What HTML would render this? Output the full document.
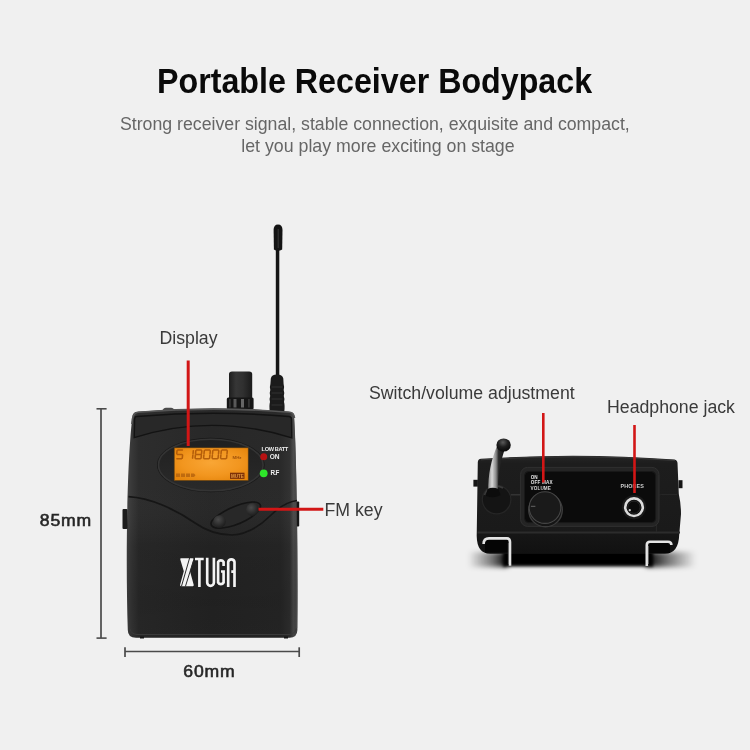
<!DOCTYPE html>
<html><head><meta charset="utf-8">
<style>
html,body{margin:0;padding:0;width:750px;height:750px;overflow:hidden;background:#f0f0f0;}
svg{position:absolute;left:0;top:0;display:block;}
text{font-family:"Liberation Sans",sans-serif;}
</style></head>
<body>
<svg width="750" height="750" viewBox="0 0 750 750" style="will-change:transform">
<defs>
<linearGradient id="bodyg" x1="0" y1="0" x2="1" y2="0">
  <stop offset="0" stop-color="#404040"/>
  <stop offset="0.03" stop-color="#343434"/>
  <stop offset="0.07" stop-color="#292929"/>
  <stop offset="0.5" stop-color="#242424"/>
  <stop offset="0.9" stop-color="#262626"/>
  <stop offset="0.955" stop-color="#2e2e2e"/>
  <stop offset="0.975" stop-color="#484848"/>
  <stop offset="1" stop-color="#444"/>
</linearGradient>
<linearGradient id="bodyv" x1="0" y1="0" x2="0" y2="1">
  <stop offset="0" stop-color="#fff" stop-opacity="0.02"/>
  <stop offset="0.35" stop-color="#fff" stop-opacity="0.02"/>
  <stop offset="0.6" stop-color="#000" stop-opacity="0.06"/>
  <stop offset="0.85" stop-color="#000" stop-opacity="0.1"/>
  <stop offset="1" stop-color="#000" stop-opacity="0.06"/>
</linearGradient>
<linearGradient id="knobg" x1="0" y1="0" x2="1" y2="0">
  <stop offset="0" stop-color="#1e1e1e"/>
  <stop offset="0.3" stop-color="#363636"/>
  <stop offset="0.6" stop-color="#303030"/>
  <stop offset="1" stop-color="#1a1a1a"/>
</linearGradient>
<radialGradient id="lcdg" cx="0.5" cy="0.45" r="0.65">
  <stop offset="0" stop-color="#f9a635"/>
  <stop offset="0.6" stop-color="#f2961f"/>
  <stop offset="1" stop-color="#e5850c"/>
</radialGradient>
<radialGradient id="btng" cx="0.4" cy="0.35" r="0.7">
  <stop offset="0" stop-color="#4a4a4a"/>
  <stop offset="1" stop-color="#1a1a1a"/>
</radialGradient>
<linearGradient id="body2g" x1="0" y1="0" x2="0" y2="1">
  <stop offset="0" stop-color="#262626"/>
  <stop offset="0.08" stop-color="#1d1d1d"/>
  <stop offset="0.76" stop-color="#1a1a1a"/>
  <stop offset="0.8" stop-color="#161616"/>
  <stop offset="1" stop-color="#111"/>
</linearGradient>
<linearGradient id="antg" x1="0" y1="0" x2="1" y2="0">
  <stop offset="0" stop-color="#909090"/>
  <stop offset="0.22" stop-color="#d8d8d8"/>
  <stop offset="0.45" stop-color="#8a8a8a"/>
  <stop offset="0.6" stop-color="#2a2a2a"/>
  <stop offset="1" stop-color="#111"/>
</linearGradient>
<radialGradient id="ballg" cx="0.45" cy="0.3" r="0.7">
  <stop offset="0" stop-color="#5a5a5a"/>
  <stop offset="0.5" stop-color="#1e1e1e"/>
  <stop offset="1" stop-color="#080808"/>
</radialGradient>
<radialGradient id="bootg" cx="0.35" cy="0.3" r="0.75">
  <stop offset="0" stop-color="#333"/>
  <stop offset="0.6" stop-color="#151515"/>
  <stop offset="1" stop-color="#0a0a0a"/>
</radialGradient>
<linearGradient id="ovalg" x1="0" y1="0" x2="0" y2="1">
  <stop offset="0" stop-color="#202020"/>
  <stop offset="1" stop-color="#2a2a2a"/>
</linearGradient>
<linearGradient id="shR" x1="0" y1="0" x2="1" y2="0">
  <stop offset="0" stop-color="#000" stop-opacity="1"/>
  <stop offset="0.4" stop-color="#000" stop-opacity="0.55"/>
  <stop offset="1" stop-color="#000" stop-opacity="0"/>
</linearGradient>
<linearGradient id="shL" x1="0" y1="0" x2="1" y2="0">
  <stop offset="0" stop-color="#000" stop-opacity="0"/>
  <stop offset="0.6" stop-color="#000" stop-opacity="0.5"/>
  <stop offset="1" stop-color="#000" stop-opacity="1"/>
</linearGradient>
<filter id="blur4" x="-30%" y="-200%" width="160%" height="500%"><feGaussianBlur stdDeviation="4.5"/></filter>
<filter id="blur2" x="-10%" y="-50%" width="120%" height="200%"><feGaussianBlur stdDeviation="1.8"/></filter>
<filter id="blur3" x="-20%" y="-100%" width="140%" height="300%"><feGaussianBlur stdDeviation="2.5"/></filter>
<filter id="blur6" x="-50%" y="-100%" width="200%" height="300%"><feGaussianBlur stdDeviation="5"/></filter>
</defs>
<rect width="750" height="750" fill="#f0f0f0"/>

<!-- Title -->
<text transform="translate(157 93) scale(0.921 1)" x="0" y="0" font-size="35" font-weight="bold" fill="#0a0a0a">Portable Receiver Bodypack</text>
<text x="120" y="130" font-size="17.72" fill="#666">Strong receiver signal, stable connection, exquisite and compact,</text>
<text x="241.3" y="152" font-size="17.75" fill="#666">let you play more exciting on stage</text>

<!-- labels -->
<text x="159.5" y="344" font-size="17.7" fill="#3a3a3a">Display</text>
<text x="324.5" y="515.5" font-size="17.7" fill="#3a3a3a">FM key</text>
<text x="369" y="399" font-size="17.7" fill="#3a3a3a">Switch/volume adjustment</text>
<text x="607" y="413.3" font-size="17.7" fill="#3a3a3a">Headphone jack</text>
<text transform="translate(39.8 525.8) scale(1.1 1)" font-size="16" fill="#262626" stroke="#262626" stroke-width="0.55" letter-spacing="0.75">85mm</text>
<text transform="translate(183.3 677) scale(1.1 1)" font-size="16" fill="#262626" stroke="#262626" stroke-width="0.55" letter-spacing="0.75">60mm</text>

<!-- dimension lines -->
<g stroke="#4a4a4a" fill="none">
  <line x1="101" y1="408.8" x2="101" y2="638.1" stroke-width="1.7"/>
  <line x1="96.5" y1="408.8" x2="106.6" y2="408.8" stroke-width="1.6"/>
  <line x1="96.5" y1="638.1" x2="106.6" y2="638.1" stroke-width="1.6"/>
  <line x1="125" y1="651.5" x2="299.2" y2="651.5" stroke-width="1.6"/>
  <line x1="125" y1="647.3" x2="125" y2="657" stroke-width="1.7"/>
  <line x1="299.2" y1="647.3" x2="299.2" y2="657" stroke-width="1.7"/>
</g>


<!-- ===== LEFT DEVICE (front) ===== -->
<!-- antenna -->
<g>
  <rect x="275.8" y="248" width="3.5" height="130" fill="#151515"/>
  <path d="M273.6,230 Q273.6,224.4 278,224.4 Q282.5,224.4 282.5,230 L282.2,249.5 Q278,252 273.9,249.5 Z" fill="#141414"/>
  <rect x="277.6" y="229" width="1.2" height="19" fill="#3a3a3a" opacity="0.8"/>
  <path d="M270.8,378.5 Q271.5,374.5 277,374.5 Q282.5,374.5 283.3,378.5 L283.6,384 Q284.6,387 283.7,390 Q284.8,393 283.8,396 Q285,399 284,402 Q285,405 284.3,411.7 H269.8 Q269,405 270,402 Q269,399 270.2,396 Q269.2,393 270.3,390 Q269.4,387 270.4,384 Z" fill="#1b1b1b"/>
  <g stroke="#353535" stroke-width="0.9">
    <line x1="271.5" y1="387" x2="282.5" y2="387"/>
    <line x1="271.5" y1="393" x2="282.5" y2="393"/>
    <line x1="271.5" y1="399" x2="282.5" y2="399"/>
    <line x1="271.5" y1="405" x2="282.5" y2="405"/>
  </g>
</g>
<!-- knob -->
<g>
  <path d="M229,398 V374 Q229,371.4 232,371.4 H249.2 Q252.2,371.4 252.2,374 V398 Z" fill="url(#knobg)"/>
  <rect x="226.8" y="397.5" width="26.8" height="12" rx="1.5" fill="#151515"/>
  <rect x="233.5" y="399" width="3" height="8.5" fill="#6a6a6a" opacity="0.8"/>
  <rect x="241" y="399" width="3" height="8.5" fill="#7a7a7a" opacity="0.8"/>
  <rect x="229" y="399" width="1.8" height="8.5" fill="#333"/>
  <rect x="248" y="399" width="1.8" height="8.5" fill="#333"/>
</g>
<!-- top bump -->
<path d="M162,411.5 Q163,407.8 166,407.8 H171 Q174,407.8 175,411.5 Z" fill="#4a4a4a"/>
<!-- body -->
<path id="lbody" d="M137.5,411.8 Q213.5,405.2 289.5,411.8 Q293.5,412 294,415 C297,460 298,560 297.4,630 Q297.2,637.8 289.5,637.8 H136 Q127.8,637.8 127.8,630 C125.5,560 127,460 132.5,416 Q133,412 137.5,411.8 Z" fill="url(#bodyg)"/>
<path d="M137.5,411.8 Q213.5,405.2 289.5,411.8 Q293.5,412 294,415 C297,460 298,560 297.4,630 Q297.2,637.8 289.5,637.8 H136 Q127.8,637.8 127.8,630 C125.5,560 127,460 132.5,416 Q133,412 137.5,411.8 Z" fill="url(#bodyv)"/>
<path d="M130,629 Q131,634 137,634.5 H289 Q295,634 296,629" fill="none" stroke="#3a3a3a" stroke-width="1"/>
<rect x="140" y="636.5" width="4" height="2" fill="#151515"/>
<rect x="284" y="636.5" width="4" height="2" fill="#151515"/>
<rect x="296.2" y="501.5" width="3" height="25" rx="0.8" fill="#161616"/>
<!-- side tabs -->
<rect x="122.5" y="509" width="5" height="20" rx="1" fill="#1c1c1c"/>

<!-- top band -->
<path d="M131.8,424 Q132.5,412.3 138,412.3 Q213.5,405.9 289.5,412.3 Q294,412.5 294.5,418" fill="none" stroke="#565656" stroke-width="1.6"/>
<path d="M293.2,416 C296,460 297,560 296.4,628" fill="none" stroke="#4a4a4a" stroke-width="1.5" opacity="0.8"/>
<path d="M136.5,416.5 Q213.5,410 289,416.5 Q291.3,416.7 291.5,419 L291.8,437.8 Q212,413 134.2,437.6 L134.6,419.5 Q134.8,416.5 136.5,416.5 Z" fill="#282828" stroke="#131313" stroke-width="1.4"/>

<!-- LCD recess oval -->
<ellipse cx="210.8" cy="465" rx="53.8" ry="27.2" fill="#181818"/>
<ellipse cx="210.8" cy="465" rx="52.3" ry="25.7" fill="url(#ovalg)" stroke="#343434" stroke-width="1.6"/>
<!-- LCD -->
<rect x="174.2" y="447.8" width="74" height="32.8" fill="url(#lcdg)" stroke="#5a3a10" stroke-width="0.6"/>
<g fill="#b8650e" opacity="0.85">
  
  <text x="232.5" y="459" font-size="4.4" font-weight="bold" fill="#8f4406">MHz</text>
  <rect x="176" y="473.5" width="4" height="3.5"/>
  <rect x="181" y="473.5" width="4" height="3.5"/>
  <rect x="186" y="473.5" width="4" height="3.5"/>
  <path d="M191,473.5 h3 l1.5,1.75 l-1.5,1.75 h-3 Z"/>
</g>
<path d="M177.80,450.00L182.40,450.00M182.58,455.10L182.27,458.10M176.90,458.80L181.50,458.80M177.03,450.70L176.72,453.70M177.35,454.40L181.95,454.40M193.33,450.70L193.02,453.70M192.88,455.10L192.57,458.10M196.60,450.00L201.20,450.00M201.83,450.70L201.52,453.70M201.38,455.10L201.07,458.10M195.70,458.80L200.30,458.80M195.38,455.10L195.07,458.10M195.83,450.70L195.52,453.70M196.15,454.40L200.75,454.40M205.10,450.00L209.70,450.00M210.33,450.70L210.02,453.70M209.88,455.10L209.57,458.10M204.20,458.80L208.80,458.80M203.88,455.10L203.57,458.10M204.33,450.70L204.02,453.70M213.60,450.00L218.20,450.00M218.83,450.70L218.52,453.70M218.38,455.10L218.07,458.10M212.70,458.80L217.30,458.80M212.38,455.10L212.07,458.10M212.83,450.70L212.52,453.70M222.10,450.00L226.70,450.00M227.33,450.70L227.02,453.70M226.88,455.10L226.57,458.10M221.20,458.80L225.80,458.80M220.88,455.10L220.57,458.10M221.33,450.70L221.02,453.70" fill="none" stroke="#a95406" stroke-width="1.55" stroke-linecap="round" opacity="0.85"/>
<rect x="230" y="472.7" width="14.5" height="6.2" fill="#7e3208"/>
<text x="231" y="477.8" font-size="4.5" font-weight="bold" fill="#e49a40">MUTE</text>
<!-- LEDs -->
<text x="261.6" y="451" font-size="5.6" font-weight="bold" fill="#eee" letter-spacing="-0.35">LOW BATT</text>
<circle cx="263.7" cy="456.8" r="3.5" fill="#b81212"/>
<text x="269.8" y="459.4" font-size="6.6" font-weight="bold" fill="#eee" letter-spacing="-0.3">ON</text>
<circle cx="263.7" cy="473.3" r="3.9" fill="#2ee62a"/>
<text x="270.5" y="475.2" font-size="6.3" font-weight="bold" fill="#eee" letter-spacing="-0.7">R.F</text>
<!-- wave and buttons -->
<path d="M128.5,496.7 C150,498 175,509 195,523 C205,530 218,535 232,535 C250,534 262,524 270,516 C278,508 286,502 297,500.5" fill="none" stroke="#161616" stroke-width="1.7"/>
<path d="M211.8,521 C220,512 238,503 252,502 C258,501.5 262,504 260,508 C256,516 240,526 222,528 C214,529 209,526 211.8,521 Z" fill="#282828" stroke="#141414" stroke-width="1.6"/>
<circle cx="219.5" cy="521.5" r="6.3" fill="url(#btng)"/>
<circle cx="252.4" cy="509.6" r="6.3" fill="url(#btng)"/>
<!-- logo -->
<path d="M181,558.2 H192.6 Q193.8,558.2 193.5,559.5 L190,571.3 L193.7,584.8 Q194,586.2 192.8,586.2 H181 Q179.8,586.2 180.1,584.8 L183.8,571.3 L180.3,559.5 Q180,558.2 181,558.2 Z" fill="#f4f4f4"/>
<g stroke="#2a2a2a" stroke-width="1" fill="none">
  <path d="M189.6,558 L181.4,586.5"/>
  <path d="M193.8,559.5 L185.4,586.5"/>
</g>
<g fill="none" stroke="#f4f4f4" stroke-width="2.65">
  <path d="M195,559 H203.7 M199.4,559 V587"/>
  <path d="M207.2,557.8 V582.5 A3.2,3.2 0 0 0 213.9,582.5 V557.8"/>
  <path d="M223.6,566 V562 A3.2,3.2 0 0 0 218.1,562 V582.5 A3.2,3.2 0 0 0 223.6,582.5 V571.5 H221"/>
  <path d="M228.2,587 V562 A3.2,3.2 0 0 1 234.5,562 V587 M231.3,571.6 H234.5"/>
</g>

<!-- ===== RIGHT DEVICE (top view) ===== -->
<!-- shadow -->
<rect x="503" y="551" width="150" height="15.5" fill="#000" filter="url(#blur2)"/>
<rect x="646" y="552" width="50" height="15" fill="url(#shR)" filter="url(#blur3)"/>
<rect x="468" y="552" width="40" height="15" fill="url(#shL)" filter="url(#blur3)"/>
<!-- tabs -->
<rect x="473.4" y="479.8" width="4.5" height="6.8" fill="#151515"/>
<rect x="678.5" y="480.2" width="4" height="8" fill="#151515"/>
<!-- body -->
<path d="M481,458.8 Q578,452.2 674.5,459.5 Q677.3,460 677.5,463 L678.8,494 Q681,504 681,514 L679.2,535 Q678.5,553.6 665,553.8 H490 Q477,553.6 476.7,536 L477.8,462 Q478,459 481,458.8 Z" fill="url(#body2g)"/>
<path d="M481,459.8 Q578,453.2 675,460.5" fill="none" stroke="#383838" stroke-width="1"/>
<path d="M477.5,532.5 H680" stroke="#2c2c2c" stroke-width="2"/>
<path d="M656.5,532 V500 Q656.5,494.5 662,494.5 H677" fill="none" stroke="#262626" stroke-width="1.2"/>
<rect x="485" y="539.5" width="24" height="13" fill="#050505"/>
<rect x="648" y="543" width="22" height="10" fill="#050505"/>
<!-- panel -->
<rect x="520.6" y="467.4" width="138.4" height="59" rx="7" fill="#242424" stroke="#303030" stroke-width="1"/>
<rect x="524.6" y="471.6" width="131" height="51" rx="4" fill="#0b0b0b" stroke="#191919" stroke-width="1"/>
<line x1="510.8" y1="494.8" x2="520.4" y2="494.8" stroke="#3a3a3a" stroke-width="1.2"/>
<!-- volume knob -->
<circle cx="545.5" cy="510" r="16.8" fill="#151515" stroke="#3c3c3c" stroke-width="1.4"/>
<circle cx="545" cy="507.6" r="15.8" fill="#1a1a1a" stroke="#474747" stroke-width="1.1"/>
<line x1="530.9" y1="506.3" x2="535.4" y2="506.3" stroke="#666" stroke-width="1"/>
<text x="530.8" y="478.8" font-size="4.6" font-weight="bold" fill="#e6e6e6">ON</text>
<text x="530.8" y="484.4" font-size="4.6" font-weight="bold" fill="#e6e6e6" letter-spacing="0.2">OFF MAX</text>
<text x="530.5" y="489.8" font-size="4.6" font-weight="bold" fill="#d8d8d8" letter-spacing="0.15">VOLUME</text>
<!-- jack -->
<text x="620.4" y="487.8" font-size="5.4" font-weight="bold" fill="#d0d0d0" letter-spacing="0.15">PHONES</text>
<circle cx="634" cy="507.2" r="12.2" fill="#1a1a1a"/>
<circle cx="634" cy="507.2" r="8.8" fill="#0a0a0a" stroke="#dcdcdc" stroke-width="2.6"/>
<circle cx="634" cy="507.2" r="6.2" fill="none" stroke="#2a2a2a" stroke-width="1"/>
<circle cx="629.8" cy="510.2" r="1.1" fill="#cfcfcf"/>
<!-- antenna -->
<circle cx="496.6" cy="499.6" r="14.3" fill="#141414" stroke="#262626" stroke-width="1.2"/>
<path d="M484.5,495 A12.5,12.5 0 0 1 503,488" fill="none" stroke="#3a3a3a" stroke-width="1.6"/>
<path d="M497.5,445 C491,460 488,474 488.3,492 L498,492 C498,477 499.5,464 505.5,447 Z" fill="url(#antg)"/>
<path d="M487.5,489 Q492.5,486.5 498.5,489 L500.5,495 Q494,499 486,496 Z" fill="#0c0c0c"/>
<ellipse cx="503.6" cy="445" rx="7.2" ry="6.6" fill="url(#ballg)"/>
<!-- clips -->
<g fill="none" stroke="#e4e4e4" stroke-width="2.6">
  <path d="M483.6,544 Q483.6,538.4 489,538.4 H507 Q510,538.4 510,542 V565.8"/>
  <path d="M671.4,545 Q671.4,541.7 668,541.7 H650 Q646.8,541.7 646.8,545 V566"/>
</g>
<g fill="none" stroke="#777" stroke-width="0.8">
  <path d="M508.4,543 V564"/>
  <path d="M648.4,546 V564"/>
</g>
<!-- red lines -->
<g stroke="#d21616" stroke-width="3">
  <line x1="188.2" y1="360.5" x2="188.2" y2="446"/>
  <line x1="258.5" y1="509.3" x2="323.3" y2="509.3"/>
</g>
<g stroke="#d21616" stroke-width="2.6">
  <line x1="543.3" y1="413" x2="543.3" y2="482.5"/>
  <line x1="634.5" y1="425" x2="634.5" y2="493"/>
</g>
</svg>
</body></html>
